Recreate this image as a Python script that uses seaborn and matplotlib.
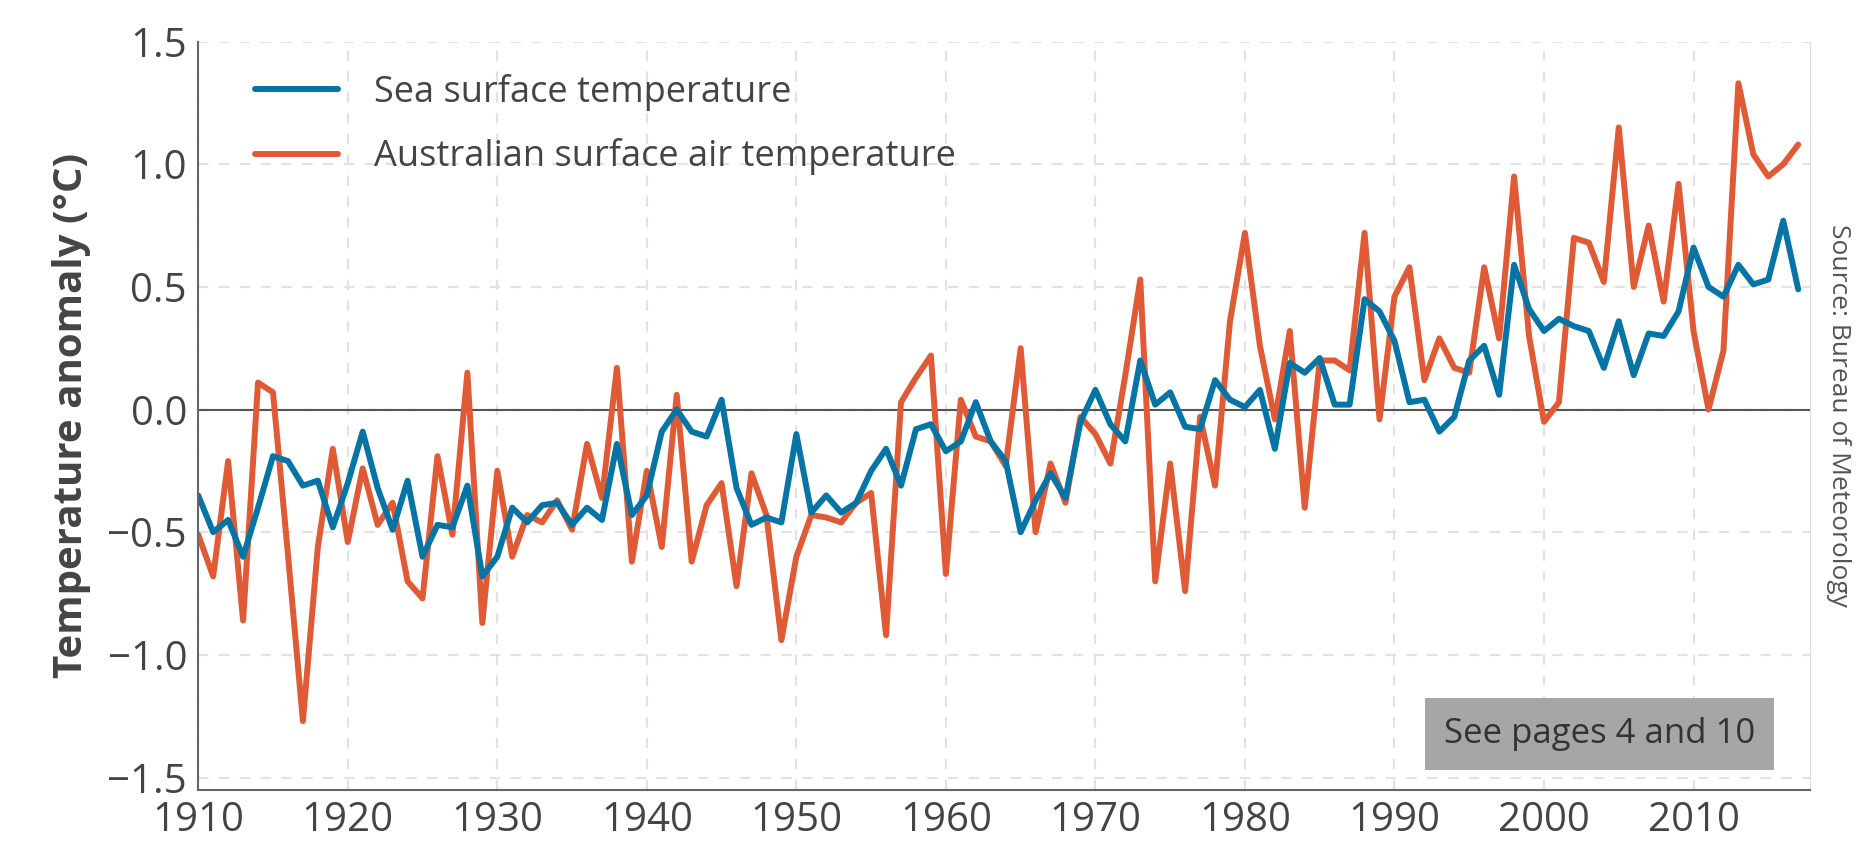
import numpy as np
import pandas as pd
import matplotlib
matplotlib.use("Agg")
import matplotlib.pyplot as plt
import seaborn as sns
from matplotlib.lines import Line2D

years = list(range(1910, 2018))

sea_surface = [
    -0.35, -0.50, -0.45, -0.60, -0.40, -0.19, -0.21, -0.31, -0.29, -0.48,
    -0.30, -0.09, -0.32, -0.49, -0.29, -0.60, -0.47, -0.48, -0.31, -0.68,
    -0.60, -0.40, -0.46, -0.39, -0.38, -0.47, -0.40, -0.45, -0.14, -0.43,
    -0.35, -0.09, 0.00, -0.09, -0.11, 0.04, -0.32, -0.47, -0.44, -0.46,
    -0.10, -0.42, -0.35, -0.42, -0.38, -0.25, -0.16, -0.31, -0.08, -0.06,
    -0.17, -0.13, 0.03, -0.13, -0.21, -0.50, -0.37, -0.26, -0.36, -0.05,
    0.08, -0.06, -0.13, 0.20, 0.02, 0.07, -0.07, -0.08, 0.12, 0.04,
    0.01, 0.08, -0.16, 0.19, 0.15, 0.21, 0.02, 0.02, 0.45, 0.40,
    0.28, 0.03, 0.04, -0.09, -0.03, 0.20, 0.26, 0.06, 0.59, 0.41,
    0.32, 0.37, 0.34, 0.32, 0.17, 0.36, 0.14, 0.31, 0.30, 0.40,
    0.66, 0.50, 0.46, 0.59, 0.51, 0.53, 0.77, 0.49,
]

air_temp = [
    -0.51, -0.68, -0.21, -0.86, 0.11, 0.07, -0.59, -1.27, -0.56, -0.16,
    -0.54, -0.24, -0.47, -0.38, -0.70, -0.77, -0.19, -0.51, 0.15, -0.87,
    -0.25, -0.60, -0.43, -0.46, -0.37, -0.49, -0.14, -0.36, 0.17, -0.62,
    -0.25, -0.56, 0.06, -0.62, -0.39, -0.30, -0.72, -0.26, -0.43, -0.94,
    -0.60, -0.43, -0.44, -0.46, -0.38, -0.34, -0.92, 0.03, 0.13, 0.22,
    -0.67, 0.04, -0.11, -0.13, -0.23, 0.25, -0.50, -0.22, -0.38, -0.03,
    -0.10, -0.22, 0.14, 0.53, -0.70, -0.22, -0.74, -0.03, -0.31, 0.36,
    0.72, 0.26, -0.04, 0.32, -0.40, 0.20, 0.20, 0.16, 0.72, -0.04,
    0.46, 0.58, 0.12, 0.29, 0.17, 0.15, 0.58, 0.29, 0.95, 0.30,
    -0.05, 0.03, 0.70, 0.68, 0.52, 1.15, 0.50, 0.75, 0.44, 0.92,
    0.32, 0.00, 0.24, 1.33, 1.04, 0.95, 1.00, 1.08,
]

series_names = ["Sea surface temperature", "Australian surface air temperature"]
colors = ["#0674a4", "#e05b35"]

df = pd.DataFrame({"Year": years, series_names[0]: sea_surface, series_names[1]: air_temp})
long_df = df.melt(id_vars="Year", var_name="Series", value_name="Anomaly")

sns.set_style("white")
plt.rcParams['font.family'] = ['Open Sans', 'DejaVu Sans']

fig = plt.figure(figsize=(18.7, 8.66), dpi=100)
ax = fig.add_axes([0.106, 0.088, 0.862, 0.864])

# draw air temp first so sea surface sits on top
sns.lineplot(data=long_df, x="Year", y="Anomaly", hue="Series", hue_order=series_names[::-1],
             palette=colors[::-1], linewidth=4.3, ax=ax, legend=False)

ax.axhline(0, color="#555555", linewidth=1.5, zorder=1)
ax.set_xlim(1910, 2017.8)
ax.set_ylim(-1.55, 1.5)
ax.set_xticks(range(1910, 2011, 10))
ax.set_yticks(np.arange(-1.5, 1.51, 0.5))
ax.set_yticklabels([f"{v:.1f}".replace("-", "\u2212") for v in np.arange(-1.5, 1.51, 0.5)])
ax.grid(True, linestyle=(0, (5, 5)), color="#e2e2e2", linewidth=1.5)
ax.set_axisbelow(True)
ax.tick_params(labelsize=29, colors="#444444", length=0, pad=8)
ax.set_xlabel("")
ax.set_ylabel("Temperature anomaly (°C)", fontsize=29, fontweight="bold", color="#444444", labelpad=12)

ax.spines["top"].set_visible(False)
for side in ["left", "bottom"]:
    ax.spines[side].set_color("#666666")
    ax.spines[side].set_linewidth(1.5)
ax.spines["right"].set_color("#dddddd")

handles = [Line2D([], [], color=c, linewidth=4.3) for c in colors]
leg = ax.legend(handles, series_names, loc="upper left", frameon=False, fontsize=26,
                handlelength=2.3, handletextpad=1.0, labelspacing=0.75, borderaxespad=0.5,
                bbox_to_anchor=(0.015, 1.0))
for t in leg.get_texts():
    t.set_color("#444444")

ax.text(0.966, 0.075, "See pages 4 and 10", transform=ax.transAxes, ha="right", va="center",
        fontsize=25, color="#333333",
        bbox=dict(boxstyle="square,pad=0.55", facecolor="#a6a6a6", edgecolor="none"))

fig.text(0.983, 0.52, "Source: Bureau of Meteorology", rotation=-90, ha="center", va="center",
         fontsize=19, color="#555555")

fig.savefig("out.png", dpi=100)
